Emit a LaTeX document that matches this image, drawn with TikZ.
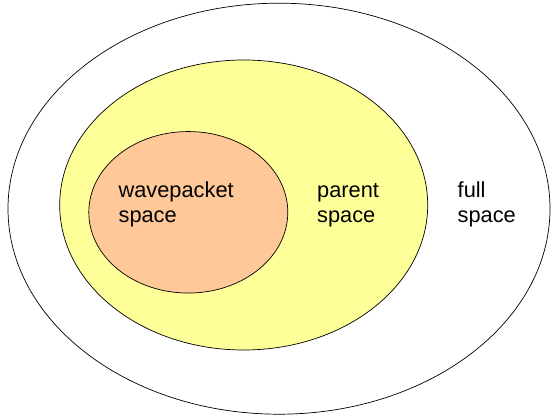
\documentclass[tikz,border=0pt]{standalone}
\usepackage{fontspec}
\setmainfont{Liberation Sans}
\usetikzlibrary{shapes.geometric}
\definecolor{parentyellow}{HTML}{FFFF99}
\definecolor{wporange}{HTML}{FFC898}
\tikzset{
  region/.style={ellipse, draw=black, line width=0.7pt, inner sep=0pt},
  label/.style={anchor=base west, align=left, inner sep=0pt,
    font=\fontsize{21.8}{25.5}\selectfont}
}
\begin{document}
\begin{tikzpicture}[x=1pt,y=-1pt]
\useasboundingbox (0,0) rectangle (551,419);
\node[region, fill=white, minimum width=542pt, minimum height=411pt] (full) at (279,208.7) {};
\node[region, fill=parentyellow, minimum width=368pt, minimum height=290pt] (parent) at (243.7,205) {};
\node[region, fill=wporange, minimum width=199pt, minimum height=161.5pt] (wp) at (188.3,212.3) {};
\node[label] (wptext) at (118.4,223) {wavepacket\\space};
\node[label] (ptext) at (317,223) {parent\\space};
\node[label] (ftext) at (457.5,223) {full\\space};
\end{tikzpicture}
\end{document}
